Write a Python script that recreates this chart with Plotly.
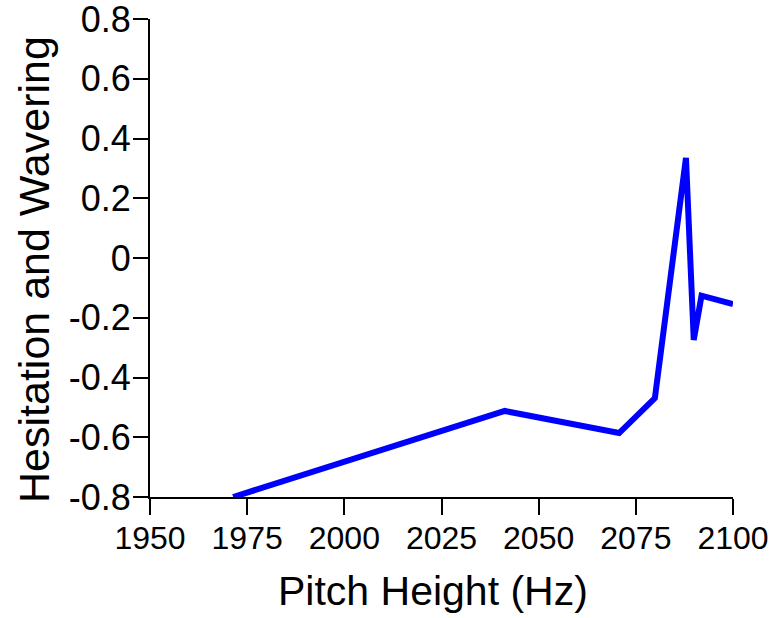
import plotly.graph_objects as go

# Data
pitch_hz = [1971.4, 2041.3, 2070.7, 2079.9, 2087.9, 2089.9, 2091.9, 2100.0]
hesitation = [-0.80, -0.512, -0.586, -0.469, 0.335, -0.274, -0.126, -0.154]

x_tick_vals = [1950, 1975, 2000, 2025, 2050, 2075, 2100]
x_tick_text = ["1950", "1975", "2000", "2025", "2050", "2075", "2100"]
y_tick_vals = [-0.8, -0.6, -0.4, -0.2, 0, 0.2, 0.4, 0.6, 0.8]
y_tick_text = ["-0.8", "-0.6", "-0.4", "-0.2", "0", "0.2", "0.4", "0.6", "0.8"]
x_title = "Pitch Height (Hz)"
y_title = "Hesitation and Wavering"

fig = go.Figure()
fig.add_trace(go.Scatter(
    x=pitch_hz, y=hesitation, mode="lines",
    line=dict(color="#0000FF", width=6),
    showlegend=False,
))

fig.update_layout(
    width=777, height=618,
    margin=dict(l=150, r=44, t=19, b=121),
    paper_bgcolor="white", plot_bgcolor="white",
    font=dict(family="Liberation Sans, Arial, sans-serif", color="black"),
)
fig.update_xaxes(
    range=[1950, 2100], tickvals=x_tick_vals, ticktext=x_tick_text,
    showgrid=False, zeroline=False, automargin=False,
    showline=True, linecolor="black", linewidth=2,
    ticks="outside", ticklen=16, tickwidth=1.5, tickcolor="black",
    tickfont=dict(size=32), ticklabeloverflow="allow", ticklabelstandoff=-4,
)
fig.update_yaxes(
    range=[-0.8, 0.8], tickvals=y_tick_vals, ticktext=y_tick_text,
    showgrid=False, zeroline=False, automargin=False,
    showline=True, linecolor="black", linewidth=2,
    ticks="outside", ticklen=15, tickwidth=1.5, tickcolor="black",
    tickfont=dict(size=36), ticklabeloverflow="allow", ticklabelstandoff=-5,
)

# Axis titles as annotations for exact placement
fig.add_annotation(
    text=x_title, xref="paper", yref="paper",
    x=(433 - 150) / 583, y=-(591 - 497) / 478,
    xanchor="center", yanchor="middle", showarrow=False,
    font=dict(size=41),
)
fig.add_annotation(
    text=y_title, xref="paper", yref="paper", textangle=-90,
    x=(34 - 150) / 583, y=(497 - 270) / 478,
    xanchor="center", yanchor="middle", showarrow=False,
    font=dict(size=43),
)

fig.write_html(
    "out.html",
    config={"displayModeBar": False},
    post_script="document.body.style.margin='0px';",
)
